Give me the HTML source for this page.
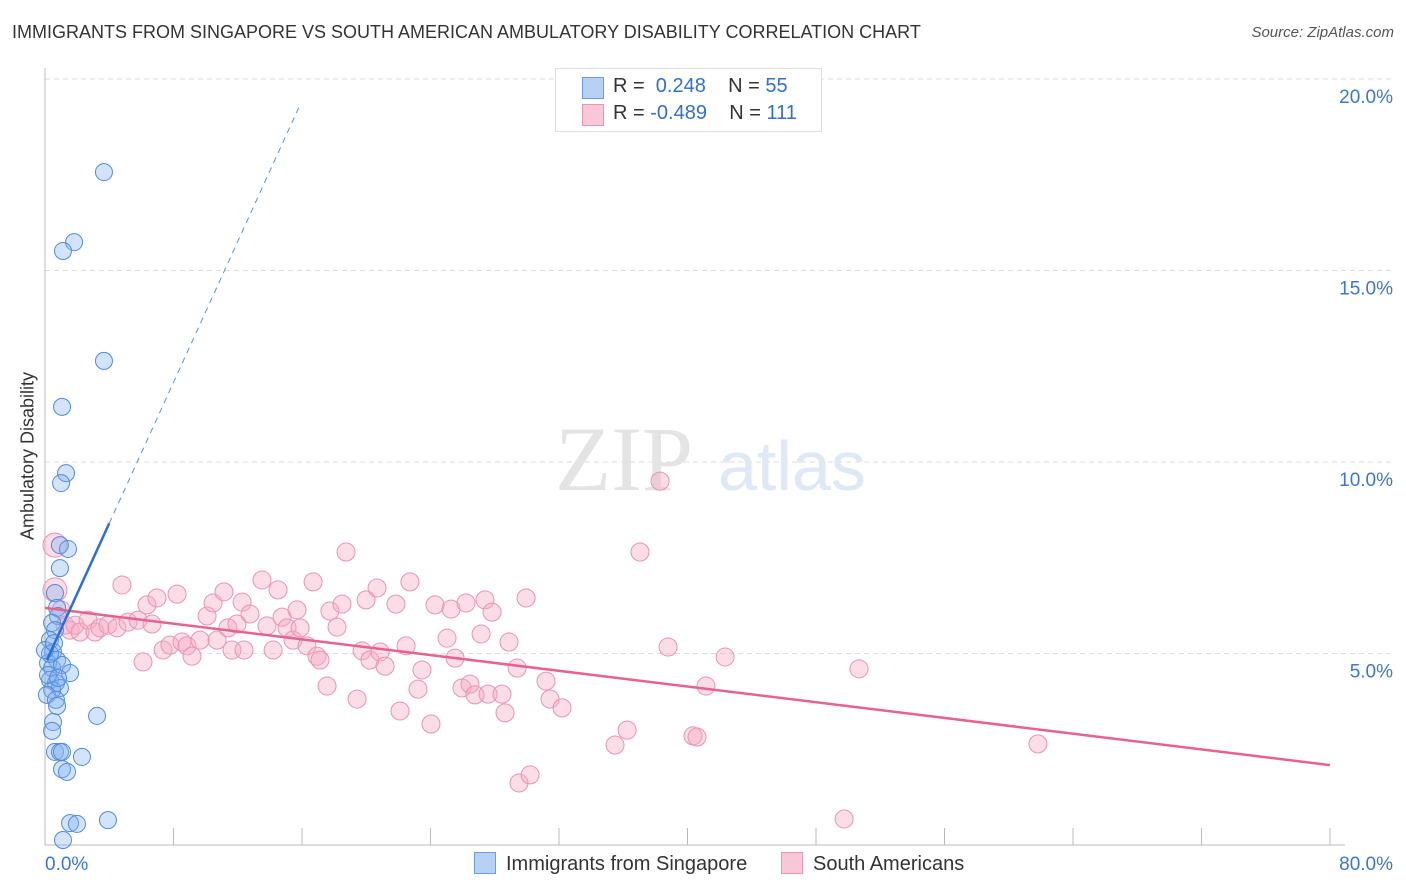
<!DOCTYPE html>
<html><head><meta charset="utf-8">
<style>
body{margin:0;background:#fff;font-family:"Liberation Sans",sans-serif;}
#wrap{position:relative;width:1406px;height:892px;overflow:hidden;}
.t{position:absolute;white-space:nowrap;}
</style></head>
<body><div id="wrap">
<div class="t" style="left:12px;top:22px;font-size:18px;color:#333;">IMMIGRANTS FROM SINGAPORE VS SOUTH AMERICAN AMBULATORY DISABILITY CORRELATION CHART</div>
<div class="t" style="right:12px;top:24px;font-size:15px;color:#555;font-style:italic;">Source: ZipAtlas.com</div>
<svg id="plot" width="1406" height="892" style="position:absolute;left:0;top:0"></svg>
<div class="t" style="left:28px;top:456px;font-size:18px;color:#333;transform:translate(-50%,-50%) rotate(-90deg);">Ambulatory Disability</div>
<div class="t" style="left:555px;top:68px;width:265px;height:62px;border:1px solid #ddd;background:#fff;font-size:20px;color:#333;">
 <div style="position:absolute;left:26px;top:8px;width:20px;height:20px;background:#b7d1f5;border:1px solid #6c9ee6;"></div>
 <div class="t" style="left:57px;top:6px;">R = <span style="color:#2f6fd6;">&nbsp;0.248</span>&nbsp;&nbsp;&nbsp; N = <span style="color:#2f6fd6;">55</span></div>
 <div style="position:absolute;left:26px;top:35px;width:20px;height:20px;background:#f9c7d7;border:1px solid #ec95b2;"></div>
 <div class="t" style="left:57px;top:33px;">R = <span style="color:#2f6fd6;">-0.489</span>&nbsp;&nbsp;&nbsp; N = <span style="color:#2f6fd6;">111</span></div>
</div>
<div class="t" style="left:474px;top:852px;font-size:20px;color:#333;"><span style="display:inline-block;width:20px;height:20px;background:#b7d1f5;border:1px solid #6c9ee6;vertical-align:-4px;margin-right:10px;"></span>Immigrants from Singapore</div>
<div class="t" style="left:781px;top:852px;font-size:20px;color:#333;"><span style="display:inline-block;width:20px;height:20px;background:#f9c7d7;border:1px solid #ec95b2;vertical-align:-4px;margin-right:10px;"></span>South Americans</div>
</div>
<script>
const xTicks=[0,80];
const yTicks=[5,10,15,20];
const blueX=[3.67,1.81,1.12,3.67,1.06,1.31,1.00,0.93,1.43,0.93,0.62,0.75,0.81,0.44,0.62,0.31,0.50,0.75,0.19,0.44,1.06,1.56,0.31,0.68,0.93,0.44,0.12,0.68,0.75,3.24,0.50,0.44,0.62,0.93,1.06,2.30,1.06,1.37,1.56,1.99,3.92,1.12,0.31,0,0.19,0.81,0.56];
const blueY=[17.57,15.74,15.51,12.64,11.44,9.71,9.45,7.83,7.73,7.23,6.58,6.19,5.98,5.80,5.61,5.35,5.04,4.83,4.75,4.62,4.70,4.49,4.31,4.23,4.10,4.05,3.92,3.79,3.63,3.37,3.21,2.98,2.43,2.43,2.43,2.30,1.98,1.91,0.57,0.55,0.65,0.13,4.99,5.09,4.44,4.36,5.27];
const pinkX=[0.62,0.62,1.00,1.25,1.56,1.87,2.18,2.68,3.11,3.42,3.92,4.48,4.79,5.17,5.79,6.10,6.35,6.66,6.97,7.35,7.78,8.22,8.53,8.84,9.15,9.65,10.09,10.46,10.71,11.14,11.39,11.64,11.95,12.27,12.39,12.76,13.51,13.82,14.20,14.51,14.76,15.07,15.44,15.69,15.88,16.31,16.69,16.93,17.12,17.56,17.74,18.18,18.49,18.74,19.43,19.74,19.99,20.23,20.67,20.86,21.17,21.85,22.10,22.48,22.72,23.22,23.47,24.03,24.28,25.03,25.28,25.53,25.96,26.21,26.46,26.77,27.15,27.39,27.58,27.83,28.45,28.64,28.89,29.39,29.51,29.95,30.20,31.19,31.44,32.19,35.49,36.24,37.04,38.29,38.79,40.34,40.59,41.15,42.34,49.75,50.68,61.82];
const pinkY=[7.83,6.66,6.14,5.74,5.61,5.74,5.56,5.87,5.56,5.67,5.74,5.67,6.79,5.82,5.87,4.78,6.27,5.77,6.45,5.09,5.22,6.55,5.30,5.20,4.93,5.35,5.98,6.32,5.35,6.61,5.67,5.09,5.77,6.34,5.09,6.03,6.92,5.72,5.09,6.66,5.95,5.67,5.35,6.14,5.67,5.20,6.87,4.93,4.83,4.15,6.11,5.69,6.29,7.65,3.81,5.07,6.40,4.83,6.71,5.04,4.67,6.29,3.50,5.20,6.87,4.07,4.57,3.16,6.27,5.40,6.16,4.88,4.10,6.32,4.20,3.92,5.51,6.40,3.94,6.08,3.94,3.45,5.30,4.62,1.62,6.45,1.83,4.28,3.81,3.58,2.61,3.00,7.65,9.50,5.17,2.85,2.82,4.15,4.91,0.68,4.60,2.64];
const blueTrend=[4.72,0.92];
const pinkTrend=[6.19,-0.0513];

const svg=document.getElementById('plot');
const NS='http://www.w3.org/2000/svg';
const X0=45,X1=1330,Y0=845,Y20=79;
const sx=v=>X0+v/80*(X1-X0);
const sy=v=>Y0-v/20*(Y0-Y20);
function mk(tag,attrs){const e=document.createElementNS(NS,tag);for(const k in attrs)e.setAttribute(k,attrs[k]);svg.appendChild(e);return e;}
// gridlines
yTicks.forEach(v=>{
 const g=mk('line',{x1:X0,x2:1395,y1:sy(v),y2:sy(v),stroke:'#ddd','stroke-dasharray':'5,4'});
 
 
 const t=mk('text',{x:1393,y:sy(v)+24,'text-anchor':'end','font-size':19,fill:'#3a76d6','font-family':'Liberation Sans, sans-serif'});
 t.textContent=v.toFixed(1)+'%';
 
 
});
// axes
const ax=mk('line',{x1:X0,x2:X1+15,y1:Y0,y2:Y0,stroke:'#bbb'});


const ay=mk('line',{x1:X0,x2:X0,y1:68,y2:Y0,stroke:'#bbb'});


for(let i=1;i<=10;i++){
 const tk=mk('line',{x1:sx(i*8),x2:sx(i*8),y1:Y0-17,y2:Y0,stroke:'#bbb'});
 
 
}
xTicks.forEach(v=>{
 const t=mk('text',{x:v===0?X0:1393,y:870,'text-anchor':v===0?'start':'end','font-size':19,fill:'#3a76d6','font-family':'Liberation Sans, sans-serif'});
 t.textContent=v.toFixed(1)+'%';
 
 
});
// watermark
const wm=mk('text',{x:555,y:490,'font-size':92,fill:'#e4e4e4','font-family':'Liberation Serif, serif'});
wm.textContent='ZIP';


const wm2=mk('text',{x:718,y:490,'font-size':70,fill:'#dfe8f6','font-family':'Liberation Sans, sans-serif'});
wm2.textContent='atlas';


// points
pinkX.forEach((v,i)=>{
 const c=mk('circle',{cx:sx(v),cy:sy(pinkY[i]),r:i<2?12:9,fill:'rgba(246,170,196,0.4)',stroke:'#eb93b1','stroke-width':1});
 
 
});
blueX.forEach((v,i)=>{
 const c=mk('circle',{cx:sx(v),cy:sy(blueY[i]),r:8.5,fill:'rgba(130,175,240,0.35)',stroke:'#4f8ce0','stroke-width':1});
 
 
});
// trend lines
const pl=mk('line',{x1:sx(0),y1:sy(pinkTrend[0]),x2:sx(80),y2:sy(pinkTrend[0]+pinkTrend[1]*80),stroke:'#e8628f','stroke-width':2.5});


const bl=mk('line',{x1:sx(0.12),y1:sy(blueTrend[0]+blueTrend[1]*0.12),x2:sx(4),y2:sy(blueTrend[0]+blueTrend[1]*4),stroke:'#2a6fd8','stroke-width':2.5});


const bd=mk('line',{x1:sx(4),y1:sy(blueTrend[0]+blueTrend[1]*4),x2:sx(15.9),y2:sy(blueTrend[0]+blueTrend[1]*15.9),stroke:'#5a92e0','stroke-width':1,'stroke-dasharray':'6,5'});


</script>
</body></html>
